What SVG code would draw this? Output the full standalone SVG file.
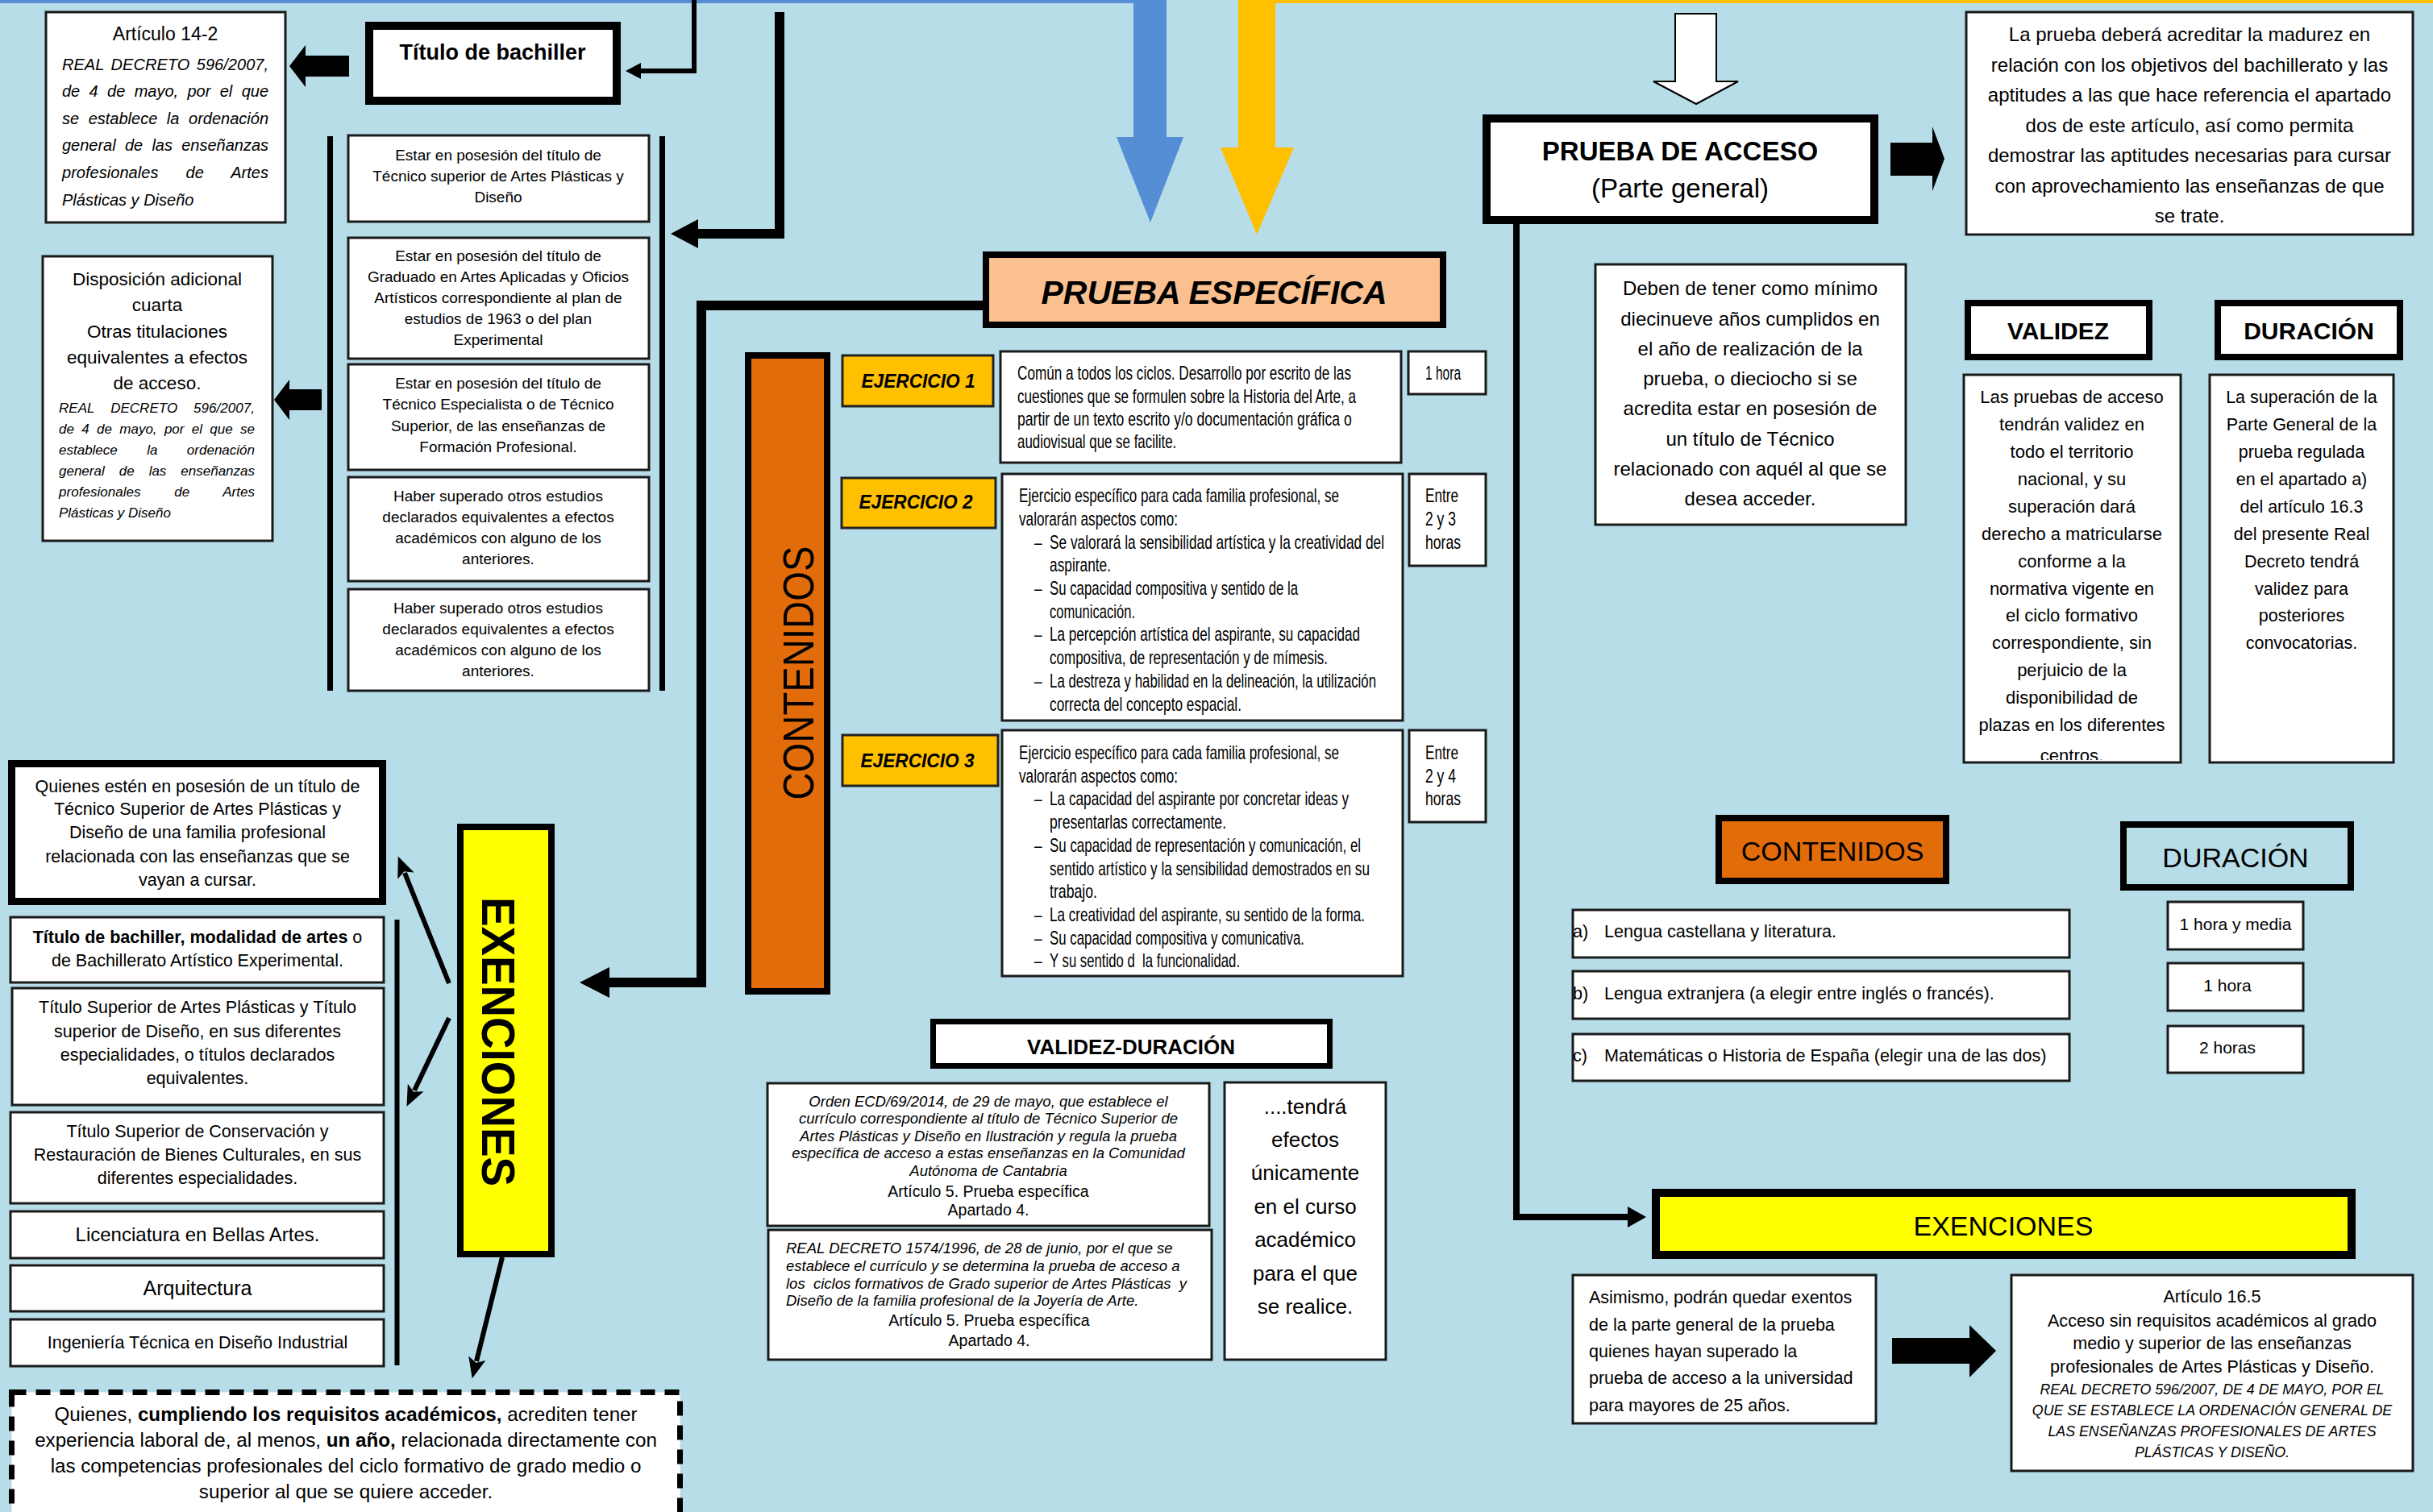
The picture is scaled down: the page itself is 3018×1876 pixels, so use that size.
<svg xmlns="http://www.w3.org/2000/svg" width="3018" height="1876" viewBox="0 0 3018 1876">
<style>
text { font-family: "Liberation Sans", Arial, sans-serif; fill: #000; }
.m { text-anchor: middle; }
.b { font-weight: bold; }
.i { font-style: italic; }
.box { fill: #fff; stroke: #1a1a1a; stroke-width: 3; }
.hdr { fill: #fff; stroke: #000; }
.ej { fill: #FFC000; stroke: #222; stroke-width: 3; }
.arrow { fill: #000; }
.ln { fill: none; stroke: #000; }
.n { font-size: 23px; }
</style>
<defs>
  <marker id="ah" markerUnits="userSpaceOnUse" markerWidth="30" markerHeight="24" refX="4" refY="11" orient="auto">
    <path d="M0,0 L26,11 L0,22 L6,11 z" fill="#000"/>
  </marker>
  <clipPath id="clipVal"><rect x="2436" y="465" width="269" height="478"/></clipPath>
</defs>
<rect x="0" y="0" width="3018" height="1876" fill="#B7DDE8"/>

<g id="top-arrows">
  <rect x="0" y="0" width="1406" height="4" fill="#558ED5"/>
  <rect x="1582" y="0" width="1436" height="4" fill="#FFC000"/>
  <polygon points="1406,0 1447,0 1447,170 1468,170 1427,276 1385,170 1406,170" fill="#558ED5"/>
  <polygon points="1536,0 1582,0 1582,183 1605,183 1559,291 1514,183 1536,183" fill="#FFC000"/>
  <polygon points="2078,17 2129,17 2129,101 2156,101 2104,129 2051,101 2078,101" fill="#fff" stroke="#000" stroke-width="2"/>
</g>

<g id="connectors">
  <path class="ln" d="M861,0 V88 H792" stroke-width="6"/>
  <polygon class="arrow" points="776,88 795,78 795,98"/>
  <path class="ln" d="M967,15 V290 H860" stroke-width="12"/>
  <polygon class="arrow" points="832,290 866,272 866,308"/>
  <path class="ln" d="M1225,379 H870 V1219 H750" stroke-width="12"/>
  <polygon class="arrow" points="719,1219 756,1200 756,1238"/>
  <path class="ln" d="M1881,278 V1510 H2022" stroke-width="8"/>
  <polygon class="arrow" points="2042,1510 2019,1497 2019,1523"/>
  <polygon class="arrow" points="359,82 379,56 379,69 433,69 433,95 379,95 379,108"/>
  <polygon class="arrow" points="340,496 359,471 359,483 399,483 399,509 359,509 359,521"/>
  <polygon class="arrow" points="2345,177 2397,177 2397,157 2412,197 2397,237 2397,218 2345,218"/>
  <polygon class="arrow" points="2347,1660 2443,1660 2443,1644 2476,1676 2443,1709 2443,1692 2347,1692"/>
  <line class="ln" x1="557" y1="1220" x2="502" y2="1083" stroke-width="6" marker-end="url(#ah)"/>
  <line class="ln" x1="557" y1="1263" x2="514" y2="1353" stroke-width="6" marker-end="url(#ah)"/>
  <line class="ln" x1="623" y1="1560" x2="591" y2="1689" stroke-width="6" marker-end="url(#ah)"/>
  <line class="ln" x1="409.5" y1="169" x2="409.5" y2="857" stroke-width="7"/>
  <line class="ln" x1="821.5" y1="169" x2="821.5" y2="857" stroke-width="7"/>
  <line class="ln" x1="492.5" y1="1141" x2="492.5" y2="1694" stroke-width="6"/>
</g>

<g id="articulo-14-2">
  <rect class="box" x="57" y="15" width="297" height="261"/>
  <text class="m" x="205" y="50" font-size="23">Artículo 14-2</text>
  <g class="i" font-size="20">
    <text x="77" y="87" word-spacing="3" textLength="256">REAL DECRETO 596/2007,</text>
    <text x="77" y="120" word-spacing="5.8" textLength="256">de 4 de mayo, por el que</text>
    <text x="77" y="154" word-spacing="6" textLength="256">se establece la ordenación</text>
    <text x="77" y="187" word-spacing="5.7" textLength="256">general de las enseñanzas</text>
    <text x="77" y="221" word-spacing="28.5" textLength="256">profesionales de Artes</text>
    <text x="77" y="255">Plásticas y Diseño</text>
  </g>
</g>

<g id="titulo-bachiller">
  <rect class="hdr" x="458" y="32" width="307" height="93" stroke-width="10"/>
  <text class="m b" x="611" y="74" font-size="27">Título de bachiller</text>
</g>

<g id="requisitos" font-size="19">
  <rect class="box" x="432" y="168" width="373" height="107"/>
  <text class="m" x="618" y="199">Estar en posesión del título de</text>
  <text class="m" x="618" y="225">Técnico superior de Artes Plásticas y</text>
  <text class="m" x="618" y="251">Diseño</text>
  <rect class="box" x="432" y="295" width="373" height="150"/>
  <text class="m" x="618" y="324">Estar en posesión del título de</text>
  <text class="m" x="618" y="350">Graduado en Artes Aplicadas y Oficios</text>
  <text class="m" x="618" y="376">Artísticos correspondiente al plan de</text>
  <text class="m" x="618" y="402">estudios de 1963 o del plan</text>
  <text class="m" x="618" y="428">Experimental</text>
  <rect class="box" x="432" y="452" width="373" height="131"/>
  <text class="m" x="618" y="482">Estar en posesión del título de</text>
  <text class="m" x="618" y="508">Técnico Especialista o de Técnico</text>
  <text class="m" x="618" y="535">Superior, de las enseñanzas de</text>
  <text class="m" x="618" y="561">Formación Profesional.</text>
  <rect class="box" x="432" y="592" width="373" height="129"/>
  <text class="m" x="618" y="622">Haber superado otros estudios</text>
  <text class="m" x="618" y="648">declarados equivalentes a efectos</text>
  <text class="m" x="618" y="674">académicos con alguno de los</text>
  <text class="m" x="618" y="700">anteriores.</text>
  <rect class="box" x="432" y="731" width="373" height="126"/>
  <text class="m" x="618" y="761">Haber superado otros estudios</text>
  <text class="m" x="618" y="787">declarados equivalentes a efectos</text>
  <text class="m" x="618" y="813">académicos con alguno de los</text>
  <text class="m" x="618" y="839">anteriores.</text>
</g>

<g id="disposicion">
  <rect class="box" x="53" y="318" width="285" height="353"/>
  <g font-size="22.5">
    <text class="m" x="195" y="354">Disposición adicional</text>
    <text class="m" x="195" y="386">cuarta</text>
    <text class="m" x="195" y="419">Otras titulaciones</text>
    <text class="m" x="195" y="451">equivalentes a efectos</text>
    <text class="m" x="195" y="483">de acceso.</text>
  </g>
  <g class="i" font-size="17">
    <text x="73" y="512" word-spacing="15.2" textLength="243">REAL DECRETO 596/2007,</text>
    <text x="73" y="538" word-spacing="4.6" textLength="243">de 4 de mayo, por el que se</text>
    <text x="73" y="564" word-spacing="31.7" textLength="243">establece la ordenación</text>
    <text x="73" y="590" word-spacing="13.3" textLength="243">general de las enseñanzas</text>
    <text x="73" y="616" word-spacing="37" textLength="243">profesionales de Artes</text>
    <text x="73" y="642">Plásticas y Diseño</text>
  </g>
</g>

<g id="quienes-titulo">
  <rect class="hdr" x="14.5" y="947.5" width="460" height="171" stroke-width="9"/>
  <g font-size="21.5">
    <text class="m" x="245" y="983">Quienes estén en posesión de un título de</text>
    <text class="m" x="245" y="1011">Técnico Superior de Artes Plásticas y</text>
    <text class="m" x="245" y="1040">Diseño de una familia profesional</text>
    <text class="m" x="245" y="1070">relacionada con las enseñanzas que se</text>
    <text class="m" x="245" y="1099">vayan a cursar.</text>
  </g>
</g>

<g id="exenciones-titulos" font-size="21.5">
  <rect class="box" x="13" y="1138" width="463" height="81"/>
  <text class="m" x="245" y="1170"><tspan class="b">Título de bachiller, modalidad de artes</tspan> o</text>
  <text class="m" x="245" y="1199">de Bachillerato Artístico Experimental.</text>
  <rect class="box" x="15" y="1226" width="461" height="145"/>
  <text class="m" x="245" y="1257">Título Superior de Artes Plásticas y Título</text>
  <text class="m" x="245" y="1287">superior de Diseño, en sus diferentes</text>
  <text class="m" x="245" y="1316">especialidades, o títulos declarados</text>
  <text class="m" x="245" y="1345">equivalentes.</text>
  <rect class="box" x="13" y="1380" width="463" height="113"/>
  <text class="m" x="245" y="1411">Título Superior de Conservación y</text>
  <text class="m" x="245" y="1440">Restauración de Bienes Culturales, en sus</text>
  <text class="m" x="245" y="1469">diferentes especialidades.</text>
  <rect class="box" x="13" y="1503" width="463" height="58"/>
  <text class="m" x="245" y="1540" font-size="24">Licenciatura en Bellas Artes.</text>
  <rect class="box" x="13" y="1570" width="463" height="57"/>
  <text class="m" x="245" y="1607" font-size="25">Arquitectura</text>
  <rect class="box" x="13" y="1637" width="463" height="58"/>
  <text class="m" x="245" y="1673" font-size="21.5">Ingeniería Técnica en Diseño Industrial</text>
</g>

<g id="exenciones-vertical">
  <rect x="571" y="1026" width="113" height="530" fill="#FFFF00" stroke="#000" stroke-width="8"/>
  <text class="b" transform="translate(598,1113) rotate(90)" font-size="57" textLength="359" lengthAdjust="spacingAndGlyphs">EXENCIONES</text>
</g>

<g id="experiencia-laboral">
  <rect x="14.5" y="1727.5" width="829" height="200" fill="#fff" stroke="#000" stroke-width="7" stroke-dasharray="18 12"/>
  <g font-size="24.2">
    <text class="m" x="429" y="1763">Quienes, <tspan class="b">cumpliendo los requisitos académicos,</tspan> acrediten tener</text>
    <text class="m" x="429" y="1795">experiencia laboral de, al menos, <tspan class="b">un año,</tspan> relacionada directamente con</text>
    <text class="m" x="429" y="1827">las competencias profesionales del ciclo formativo de grado medio o</text>
    <text class="m" x="429" y="1859">superior al que se quiere acceder.</text>
  </g>
</g>

<g id="prueba-especifica">
  <rect x="1223" y="316" width="567" height="87" fill="#FAC090" stroke="#000" stroke-width="8"/>
  <text class="m b i" x="1506" y="377" font-size="41">PRUEBA ESPECÍFICA</text>
</g>

<g id="contenidos-vertical">
  <rect x="928" y="441" width="98" height="789" fill="#E36C0A" stroke="#000" stroke-width="8"/>
  <text class="m" transform="translate(1009,835) rotate(-90)" font-size="54" textLength="315" lengthAdjust="spacingAndGlyphs">CONTENIDOS</text>
</g>

<g id="ejercicio-1">
  <rect class="ej" x="1045" y="441" width="187" height="63"/>
  <text class="m b i" x="1139" y="481" font-size="24" textLength="141" lengthAdjust="spacingAndGlyphs">EJERCICIO 1</text>
  <rect class="box" x="1241" y="436" width="497" height="138"/>
  <g class="n" transform="translate(1262,0) scale(0.75,1)">
    <text x="0" y="471" textLength="552" lengthAdjust="spacingAndGlyphs">Común a todos los ciclos. Desarrollo por escrito de las</text>
    <text x="0" y="500" textLength="560" lengthAdjust="spacingAndGlyphs">cuestiones que se formulen sobre la Historia del Arte, a</text>
    <text x="0" y="528" textLength="553" lengthAdjust="spacingAndGlyphs">partir de un texto escrito y/o documentación gráfica o</text>
    <text x="0" y="556" textLength="263" lengthAdjust="spacingAndGlyphs">audiovisual que se facilite.</text>
  </g>
  <rect class="box" x="1747" y="436" width="96" height="53"/>
  <g class="n" transform="translate(1768,0) scale(0.75,1)">
    <text x="0" y="471" textLength="58.7" lengthAdjust="spacingAndGlyphs">1 hora</text>
  </g>
</g>

<g id="ejercicio-2">
  <rect class="ej" x="1044" y="593" width="191" height="62"/>
  <text class="m b i" x="1136" y="631" font-size="24" textLength="141" lengthAdjust="spacingAndGlyphs">EJERCICIO 2</text>
  <rect class="box" x="1243" y="588" width="497" height="306"/>
  <g class="n" transform="translate(1264,0) scale(0.75,1)">
    <text x="0" y="623" textLength="529.3" lengthAdjust="spacingAndGlyphs">Ejercicio específico para cada familia profesional, se</text>
    <text x="0" y="652" textLength="262.7" lengthAdjust="spacingAndGlyphs">valorarán aspectos como:</text>
    <text x="25.3" y="681">–</text>
    <text x="50.7" y="681" textLength="553.3" lengthAdjust="spacingAndGlyphs">Se valorará la sensibilidad artística y la creatividad del</text>
    <text x="50.7" y="709" textLength="101.3" lengthAdjust="spacingAndGlyphs">aspirante.</text>
    <text x="25.3" y="738">–</text>
    <text x="50.7" y="738" textLength="410.7" lengthAdjust="spacingAndGlyphs">Su capacidad compositiva y sentido de la</text>
    <text x="50.7" y="767" textLength="141.3" lengthAdjust="spacingAndGlyphs">comunicación.</text>
    <text x="25.3" y="795">–</text>
    <text x="50.7" y="795" textLength="513.3" lengthAdjust="spacingAndGlyphs">La percepción artística del aspirante, su capacidad</text>
    <text x="50.7" y="824" textLength="460" lengthAdjust="spacingAndGlyphs">compositiva, de representación y de mímesis.</text>
    <text x="25.3" y="853">–</text>
    <text x="50.7" y="853" textLength="540" lengthAdjust="spacingAndGlyphs">La destreza y habilidad en la delineación, la utilización</text>
    <text x="50.7" y="882" textLength="317.3" lengthAdjust="spacingAndGlyphs">correcta del concepto espacial.</text>
  </g>
  <rect class="box" x="1748" y="588" width="95" height="114"/>
  <g class="n" transform="translate(1768,0) scale(0.75,1)">
    <text x="0" y="623" textLength="54.7" lengthAdjust="spacingAndGlyphs">Entre</text>
    <text x="0" y="652" textLength="50.7" lengthAdjust="spacingAndGlyphs">2 y 3</text>
    <text x="0" y="681" textLength="58.7" lengthAdjust="spacingAndGlyphs">horas</text>
  </g>
</g>

<g id="ejercicio-3">
  <rect class="ej" x="1045" y="912" width="193" height="63"/>
  <text class="m b i" x="1138" y="952" font-size="24" textLength="141" lengthAdjust="spacingAndGlyphs">EJERCICIO 3</text>
  <rect class="box" x="1243" y="906" width="497" height="305"/>
  <g class="n" transform="translate(1264,0) scale(0.75,1)">
    <text x="0" y="942" textLength="529.3" lengthAdjust="spacingAndGlyphs">Ejercicio específico para cada familia profesional, se</text>
    <text x="0" y="971" textLength="262.7" lengthAdjust="spacingAndGlyphs">valorarán aspectos como:</text>
    <text x="25.3" y="999">–</text>
    <text x="50.7" y="999" textLength="494.7" lengthAdjust="spacingAndGlyphs">La capacidad del aspirante por concretar ideas y</text>
    <text x="50.7" y="1028" textLength="292" lengthAdjust="spacingAndGlyphs">presentarlas correctamente.</text>
    <text x="25.3" y="1057">–</text>
    <text x="50.7" y="1057" textLength="514.7" lengthAdjust="spacingAndGlyphs">Su capacidad de representación y comunicación, el</text>
    <text x="50.7" y="1086" textLength="529.3" lengthAdjust="spacingAndGlyphs">sentido artístico y la sensibilidad demostrados en su</text>
    <text x="50.7" y="1114" textLength="78.7" lengthAdjust="spacingAndGlyphs">trabajo.</text>
    <text x="25.3" y="1143">–</text>
    <text x="50.7" y="1143" textLength="521.3" lengthAdjust="spacingAndGlyphs">La creatividad del aspirante, su sentido de la forma.</text>
    <text x="25.3" y="1172">–</text>
    <text x="50.7" y="1172" textLength="421.3" lengthAdjust="spacingAndGlyphs">Su capacidad compositiva y comunicativa.</text>
    <text x="25.3" y="1200">–</text>
    <text x="50.7" y="1200" textLength="314.7" lengthAdjust="spacingAndGlyphs" style="white-space:pre">Y su sentido d  la funcionalidad.</text>
  </g>
  <rect class="box" x="1748" y="906" width="95" height="114"/>
  <g class="n" transform="translate(1768,0) scale(0.75,1)">
    <text x="0" y="942" textLength="54.7" lengthAdjust="spacingAndGlyphs">Entre</text>
    <text x="0" y="971" textLength="50.7" lengthAdjust="spacingAndGlyphs">2 y 4</text>
    <text x="0" y="999" textLength="58.7" lengthAdjust="spacingAndGlyphs">horas</text>
  </g>
</g>

<g id="validez-duracion">
  <rect class="hdr" x="1157.5" y="1267.5" width="492" height="55" stroke-width="7"/>
  <text class="m b" x="1403" y="1308" font-size="26">VALIDEZ-DURACIÓN</text>
</g>

<g id="orden-ecd">
  <rect class="box" x="952" y="1344" width="548" height="177"/>
  <g class="i" font-size="18.5">
    <text class="m" x="1226" y="1373">Orden ECD/69/2014, de 29 de mayo, que establece el</text>
    <text class="m" x="1226" y="1394">currículo correspondiente al título de Técnico Superior de</text>
    <text class="m" x="1226" y="1416">Artes Plásticas y Diseño en Ilustración y regula la prueba</text>
    <text class="m" x="1226" y="1437">específica de acceso a estas enseñanzas en la Comunidad</text>
    <text class="m" x="1226" y="1459">Autónoma de Cantabria</text>
  </g>
  <text class="m" x="1226" y="1485" font-size="19.5">Artículo 5. Prueba específica</text>
  <text class="m" x="1226" y="1508" font-size="19.5">Apartado 4.</text>
</g>

<g id="real-decreto-1574">
  <rect class="box" x="953" y="1526" width="550" height="161"/>
  <g class="i" font-size="18.5">
    <text x="975" y="1555">REAL DECRETO 1574/1996, de 28 de junio, por el que se</text>
    <text x="975" y="1577">establece el currículo y se determina la prueba de acceso a</text>
    <text x="975" y="1599" style="white-space:pre">los  ciclos formativos de Grado superior de Artes Plásticas  y</text>
    <text x="975" y="1620">Diseño de la familia profesional de la Joyería de Arte.</text>
  </g>
  <text class="m" x="1227" y="1645" font-size="19.5">Artículo 5. Prueba específica</text>
  <text class="m" x="1227" y="1670" font-size="19.5">Apartado 4.</text>
</g>

<g id="tendra-efectos" font-size="26">
  <rect class="box" x="1519" y="1343" width="200" height="344"/>
  <text class="m" x="1619" y="1382">....tendrá</text>
  <text class="m" x="1619" y="1423">efectos</text>
  <text class="m" x="1619" y="1464">únicamente</text>
  <text class="m" x="1619" y="1506">en el curso</text>
  <text class="m" x="1619" y="1547">académico</text>
  <text class="m" x="1619" y="1589">para el que</text>
  <text class="m" x="1619" y="1630">se realice.</text>
</g>

<g id="prueba-acceso">
  <rect class="hdr" x="1844" y="147" width="481" height="126" stroke-width="10"/>
  <text class="m b" x="2084" y="199" font-size="33">PRUEBA DE ACCESO</text>
  <text class="m" x="2084" y="245" font-size="33">(Parte general)</text>
</g>

<g id="madurez" font-size="24">
  <rect class="box" x="2439" y="15" width="554" height="276"/>
  <text class="m" x="2716" y="51">La prueba deberá acreditar la madurez en</text>
  <text class="m" x="2716" y="89">relación con los objetivos del bachillerato y las</text>
  <text class="m" x="2716" y="126">aptitudes a las que hace referencia el apartado</text>
  <text class="m" x="2716" y="164">dos de este artículo, así como permita</text>
  <text class="m" x="2716" y="201">demostrar las aptitudes necesarias para cursar</text>
  <text class="m" x="2716" y="239">con aprovechamiento las enseñanzas de que</text>
  <text class="m" x="2716" y="276">se trate.</text>
</g>

<g id="edad" font-size="24">
  <rect class="box" x="1979" y="328" width="385" height="323"/>
  <text class="m" x="2171" y="366">Deben de tener como mínimo</text>
  <text class="m" x="2171" y="404">diecinueve años cumplidos en</text>
  <text class="m" x="2171" y="441">el año de realización de la</text>
  <text class="m" x="2171" y="478">prueba, o dieciocho si se</text>
  <text class="m" x="2171" y="515">acredita estar en posesión de</text>
  <text class="m" x="2171" y="553">un título de Técnico</text>
  <text class="m" x="2171" y="590">relacionado con aquél al que se</text>
  <text class="m" x="2171" y="627">desea acceder.</text>
</g>

<g id="validez-hdr">
  <rect class="hdr" x="2441" y="376" width="225" height="67" stroke-width="8"/>
  <text class="m b" x="2553" y="421" font-size="30">VALIDEZ</text>
</g>
<g id="duracion-hdr">
  <rect class="hdr" x="2751" y="376" width="226" height="67" stroke-width="8"/>
  <text class="m b" x="2864" y="421" font-size="30">DURACIÓN</text>
</g>

<g id="validez-body" font-size="22">
  <rect class="box" x="2436" y="465" width="269" height="481"/>
  <g clip-path="url(#clipVal)">
    <text class="m" x="2570" y="500">Las pruebas de acceso</text>
    <text class="m" x="2570" y="534">tendrán validez en</text>
    <text class="m" x="2570" y="568">todo el territorio</text>
    <text class="m" x="2570" y="602">nacional, y su</text>
    <text class="m" x="2570" y="636">superación dará</text>
    <text class="m" x="2570" y="670">derecho a matricularse</text>
    <text class="m" x="2570" y="704">conforme a la</text>
    <text class="m" x="2570" y="738">normativa vigente en</text>
    <text class="m" x="2570" y="771">el ciclo formativo</text>
    <text class="m" x="2570" y="805">correspondiente, sin</text>
    <text class="m" x="2570" y="839">perjuicio de la</text>
    <text class="m" x="2570" y="873">disponibilidad de</text>
    <text class="m" x="2570" y="907">plazas en los diferentes</text>
    <text class="m" x="2570" y="945">centros.</text>
  </g>
</g>

<g id="duracion-body" font-size="21.5">
  <rect class="box" x="2741" y="465" width="228" height="481"/>
  <text class="m" x="2855" y="500">La superación de la</text>
  <text class="m" x="2855" y="534">Parte General de la</text>
  <text class="m" x="2855" y="568">prueba regulada</text>
  <text class="m" x="2855" y="602">en el apartado a)</text>
  <text class="m" x="2855" y="636">del artículo 16.3</text>
  <text class="m" x="2855" y="670">del presente Real</text>
  <text class="m" x="2855" y="704">Decreto tendrá</text>
  <text class="m" x="2855" y="738">validez para</text>
  <text class="m" x="2855" y="771">posteriores</text>
  <text class="m" x="2855" y="805">convocatorias.</text>
</g>

<g id="contenidos-hdr">
  <rect x="2132" y="1015" width="282" height="78" fill="#E36C0A" stroke="#000" stroke-width="8"/>
  <text class="m" x="2273" y="1068" font-size="34">CONTENIDOS</text>
</g>
<g id="duracion-hdr-2">
  <rect x="2634" y="1023" width="282" height="78" fill="none" stroke="#000" stroke-width="8"/>
  <text class="m" x="2773" y="1076" font-size="34">DURACIÓN</text>
</g>

<g id="materias" font-size="21.6">
  <rect class="box" x="1951" y="1129" width="616" height="59"/>
  <text x="1951" y="1163">a)</text>
  <text x="1990" y="1163">Lengua castellana y literatura.</text>
  <rect class="box" x="1951" y="1205" width="616" height="59"/>
  <text x="1951" y="1240">b)</text>
  <text x="1990" y="1240">Lengua extranjera (a elegir entre inglés o francés).</text>
  <rect class="box" x="1951" y="1283" width="616" height="58"/>
  <text x="1951" y="1317">c)</text>
  <text x="1990" y="1317">Matemáticas o Historia de España (elegir una de las dos)</text>
</g>

<g id="duraciones" font-size="21">
  <rect class="box" x="2689" y="1119" width="168" height="59"/>
  <text class="m" x="2773" y="1154">1 hora y media</text>
  <rect class="box" x="2689" y="1195" width="168" height="59"/>
  <text class="m" x="2763" y="1230">1 hora</text>
  <rect class="box" x="2689" y="1273" width="168" height="58"/>
  <text class="m" x="2763" y="1307">2 horas</text>
</g>

<g id="exenciones-hdr">
  <rect x="2054" y="1480" width="863" height="77" fill="#FFFF00" stroke="#000" stroke-width="10"/>
  <text class="m" x="2485" y="1533" font-size="34">EXENCIONES</text>
</g>

<g id="mayores-25" font-size="21.5">
  <rect class="box" x="1951" y="1582" width="376" height="184"/>
  <text x="1971" y="1617">Asimismo, podrán quedar exentos</text>
  <text x="1971" y="1651">de la parte general de la prueba</text>
  <text x="1971" y="1684">quienes hayan superado la</text>
  <text x="1971" y="1717">prueba de acceso a la universidad</text>
  <text x="1971" y="1751">para mayores de 25 años.</text>
</g>

<g id="articulo-16-5">
  <rect class="box" x="2495" y="1582" width="498" height="243"/>
  <g font-size="21.6">
    <text class="m" x="2744" y="1616">Artículo 16.5</text>
    <text class="m" x="2744" y="1646">Acceso sin requisitos académicos al grado</text>
    <text class="m" x="2744" y="1674">medio y superior de las enseñanzas</text>
    <text class="m" x="2744" y="1703">profesionales de Artes Plásticas y Diseño.</text>
  </g>
  <g class="i" font-size="17.8">
    <text class="m" x="2744" y="1730">REAL DECRETO 596/2007, DE 4 DE MAYO, POR EL</text>
    <text class="m" x="2744" y="1756">QUE SE ESTABLECE LA ORDENACIÓN GENERAL DE</text>
    <text class="m" x="2744" y="1782">LAS ENSEÑANZAS PROFESIONALES DE ARTES</text>
    <text class="m" x="2744" y="1808">PLÁSTICAS Y DISEÑO.</text>
  </g>
</g>
</svg>
